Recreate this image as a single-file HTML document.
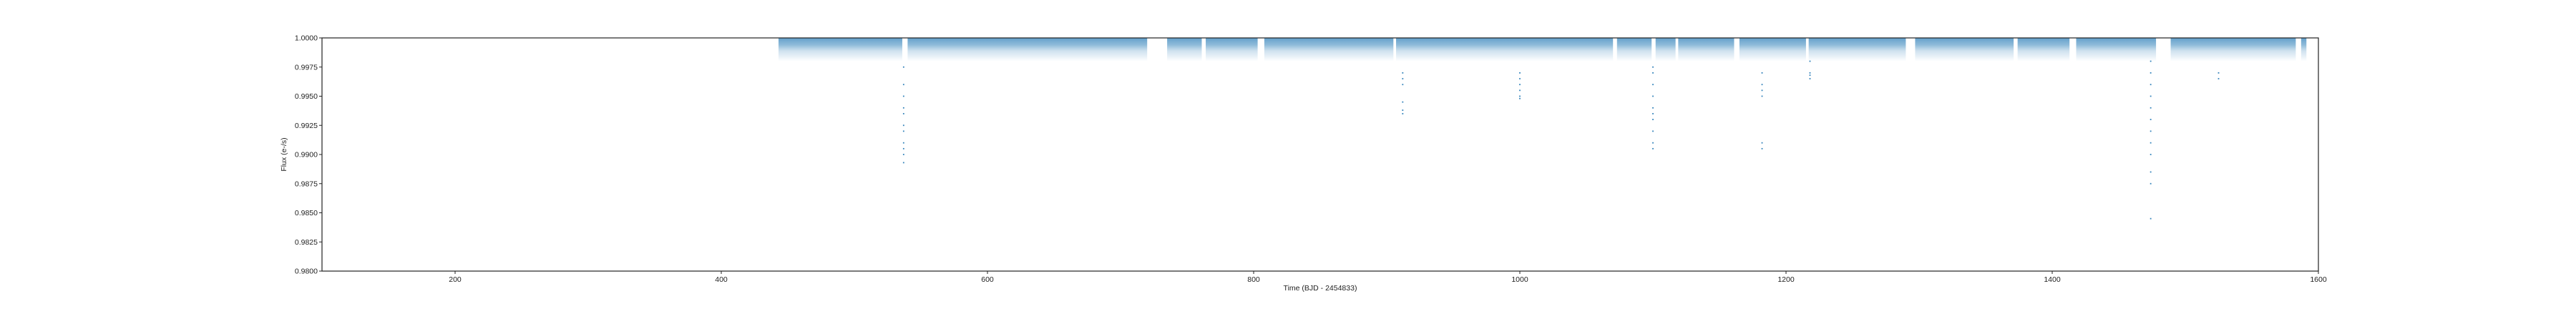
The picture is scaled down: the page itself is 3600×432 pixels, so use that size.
<!DOCTYPE html>
<html><head><meta charset="utf-8"><style>
html,body{margin:0;padding:0;background:#fff;}
svg{display:block;font-family:"Liberation Sans","DejaVu Sans",sans-serif;}
</style></head><body>
<svg id="chart" width="3600" height="432" viewBox="0 0 3600 432" xmlns="http://www.w3.org/2000/svg">
<defs>
<linearGradient id="band" x1="0" y1="0" x2="0" y2="1">
<stop offset="0" stop-color="#1f77b4" stop-opacity="0.7"/>
<stop offset="0.3" stop-color="#1f77b4" stop-opacity="0.5"/>
<stop offset="0.55" stop-color="#1f77b4" stop-opacity="0.22"/>
<stop offset="1" stop-color="#1f77b4" stop-opacity="0"/>
</linearGradient>
</defs>
<g id="plot"></g>
<g id="axes"></g>
</svg>
<script>
const xTicks=[200,400,600,800,1000,1200,1400,1600];
const yTicks=[0.98,0.9825,0.985,0.9875,0.99,0.9925,0.995,0.9975,1.0];
const yTickLabels=["0.9800","0.9825","0.9850","0.9875","0.9900","0.9925","0.9950","0.9975","1.0000"];
const segStart=[443,540,735,764,808,907,1073,1102,1119,1165,1217,1297,1374,1418,1489,1587];
const segEnd=[536,720,761,803,905,1070,1099,1117,1161,1215,1290,1371,1413,1478,1583,1591];
const bandBottom=0.998;
const dipTimes=[537,912,1000,1100,1182,1218,1474,1525];
const dipFlux=[
[0.9975,0.996,0.995,0.994,0.9935,0.9925,0.992,0.991,0.9905,0.99,0.9893],
[0.997,0.9965,0.996,0.9945,0.9938,0.9935],
[0.997,0.9965,0.996,0.9955,0.995,0.9948],
[0.9975,0.997,0.996,0.995,0.994,0.9935,0.993,0.992,0.991,0.9905],
[0.997,0.996,0.9955,0.995,0.991,0.9905],
[0.998,0.997,0.9968,0.9965],
[0.998,0.997,0.996,0.995,0.994,0.993,0.992,0.991,0.99,0.9885,0.9875,0.9845],
[0.997,0.9965]
];
const X0=450,X1=3240,Y0=379,Y1=53,xmin=100,xmax=1600,ymin=0.98,ymax=1.0;
const xs=t=>X0+(t-xmin)/(xmax-xmin)*(X1-X0);
const ys=f=>Y0-(f-ymin)/(ymax-ymin)*(Y0-Y1);
const NS="http://www.w3.org/2000/svg";
function mk(tag,attrs,parent){const e=document.createElementNS(NS,tag);for(const k in attrs)e.setAttribute(k,attrs[k]);parent.appendChild(e);return e;}
const plot=document.getElementById('plot'),axes=document.getElementById('axes');
segStart.forEach((s,i)=>{
  const r=mk('rect',{x:xs(s),y:ys(1.0),width:xs(segEnd[i])-xs(s),height:ys(bandBottom)-ys(1.0),fill:'url(#band)'},plot);
  
  
});
dipTimes.forEach((t,i)=>{
  dipFlux[i].forEach(f=>{
    const c=mk('rect',{x:xs(t)-0.9,y:ys(f)-0.9,width:1.8,height:1.8,fill:'#1f77b4',opacity:0.9},plot);
    
    
  });
});
const frame=mk('rect',{x:X0,y:Y1,width:X1-X0,height:Y0-Y1,fill:'none',stroke:'#222','stroke-width':1.2},axes);


xTicks.forEach(t=>{
  mk('line',{x1:xs(t),x2:xs(t),y1:Y0,y2:Y0+4,stroke:'#222'},axes);
  const tx=mk('text',{x:xs(t),y:Y0+15,'font-size':10.5,'text-anchor':'middle',fill:'#222'},axes);
  tx.textContent=t;
  
  
});
yTicks.forEach((v,i)=>{
  mk('line',{x1:X0-4,x2:X0,y1:ys(v),y2:ys(v),stroke:'#222'},axes);
  const tx=mk('text',{x:X0-6,y:ys(v)+3.5,'font-size':10.5,'text-anchor':'end',fill:'#222'},axes);
  tx.textContent=yTickLabels[i];
  
  
});
const xl=mk('text',{x:(X0+X1)/2,y:406,'font-size':10.5,'text-anchor':'middle',fill:'#222'},axes);
xl.textContent='Time (BJD - 2454833)';


const yl=mk('text',{x:0,y:0,'font-size':10.5,'text-anchor':'middle',fill:'#222',transform:`translate(400,${(Y0+Y1)/2}) rotate(-90)`},axes);
yl.textContent='Flux (e-/s)';


</script>
</body></html>
